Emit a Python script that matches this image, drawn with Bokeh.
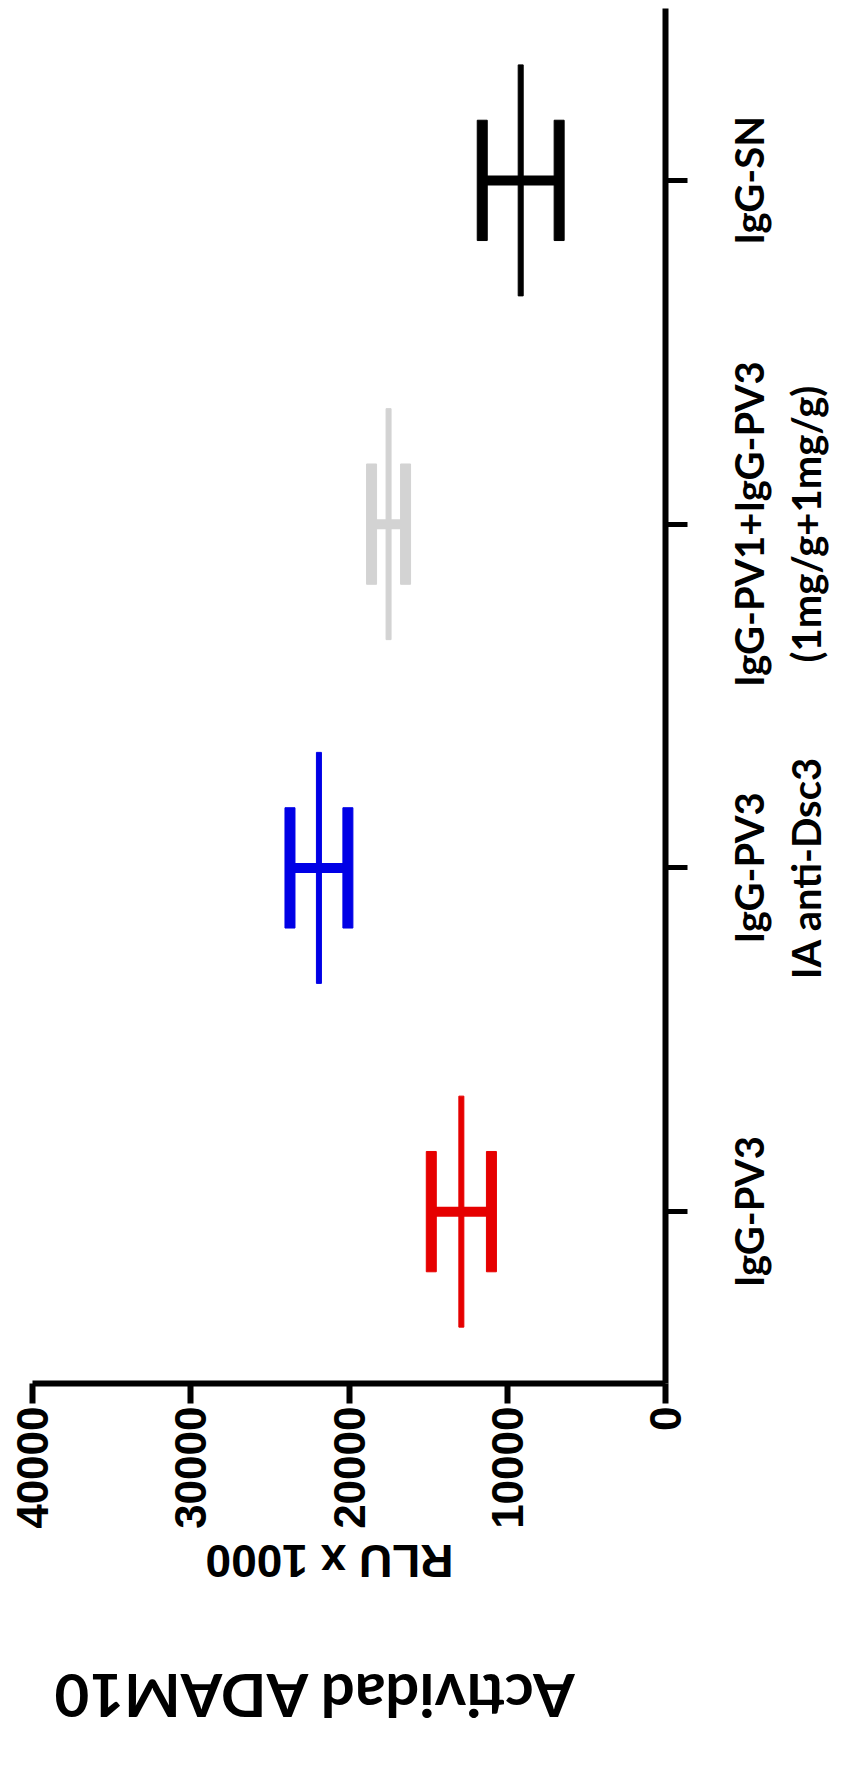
import math
from bokeh.plotting import figure
from bokeh.layouts import column, row
from bokeh.models import (Range1d, FactorRange, FixedTicker, Label, ColumnDataSource,
                          NumeralTickFormatter, CustomJSTickFormatter)
from bokeh.core.properties import value
from bokeh.embed import file_html
from bokeh.resources import INLINE

# ---- data ----
categories = ["IgG-PV3", "IgG-PV3\nIA anti-Dsc3", "IgG-PV1+IgG-PV3\n(1mg/g+1mg/g)", "IgG-SN"]
means = [12900, 21900, 17500, 9150]
sds = [1900, 1830, 1075, 2430]
colors = ["#e60000", "#0000e6", "#d3d3d3", "#000000"]
value_ticks = [0, 10000, 20000, 30000, 40000]
value_title = "RLU x 1000"
main_title = "Actividad ADAM10"

lows = [m - s for m, s in zip(means, sds)]
highs = [m + s for m, s in zip(means, sds)]
src = ColumnDataSource(dict(cat=categories, mean=means, lo=lows, hi=highs, color=colors))

x_range = Range1d(40000, 0)
y_range = FactorRange(factors=categories)

MAIN_W = 695
MAIN_H = 1535
TOP = 8
BOTTOM = 152
LEFT = 32
RIGHT = 30

# ---------------- main chart ----------------
p = figure(width=MAIN_W, height=MAIN_H, x_range=x_range, y_range=y_range,
           x_axis_location="below", y_axis_location="right",
           output_backend="svg", toolbar_location=None,
           min_border_left=LEFT, min_border_right=RIGHT,
           min_border_top=TOP, min_border_bottom=BOTTOM)
p.background_fill_color = "white"
p.border_fill_color = "white"
p.outline_line_color = None
p.xgrid.visible = False
p.ygrid.visible = False

# error bars (SD)
p.segment(x0="lo", y0="cat", x1="hi", y1="cat", line_width=10, line_color="color", source=src)
# caps
p.rect(x="lo", y="cat", width=10, width_units="screen", height=0.35,
       fill_color="color", line_color="color", line_width=1, source=src)
p.rect(x="hi", y="cat", width=10, width_units="screen", height=0.35,
       fill_color="color", line_color="color", line_width=1, source=src)
# mean line
p.rect(x="mean", y="cat", width=5, width_units="screen", height=0.672,
       fill_color="color", line_color="color", line_width=1, source=src)

# value axis (horizontal, reversed)
xa = p.xaxis[0]
xa.ticker = FixedTicker(ticks=value_ticks)
xa.formatter = NumeralTickFormatter(format="0")
xa.major_label_orientation = math.pi / 2
xa.major_label_text_font = "Liberation Sans"
xa.major_label_text_font_style = "bold"
xa.major_label_text_font_size = "44px"
xa.major_label_text_color = "black"
xa.major_label_standoff = 3
xa.axis_line_width = 6
xa.axis_line_color = "black"
xa.major_tick_line_width = 6
xa.major_tick_line_color = "black"
xa.major_tick_out = 20
xa.major_tick_in = 0
xa.minor_tick_out = 0
xa.minor_tick_in = 0

# category axis (vertical, on the right) - ticks only, labels drawn beside it
ya = p.yaxis[0]
ya.formatter = CustomJSTickFormatter(code="return ''")
ya.major_label_standoff = 0
ya.axis_line_width = 6
ya.axis_line_color = "black"
ya.major_tick_line_width = 5
ya.major_tick_line_color = "black"
ya.major_tick_out = 22
ya.major_tick_in = 0

# ---------------- category labels panel ----------------
LAB_W = 146
q = figure(width=LAB_W, height=MAIN_H, x_range=Range1d(0, LAB_W), y_range=y_range,
           x_axis_location=None, y_axis_location=None,
           output_backend="svg", toolbar_location=None,
           min_border_left=0, min_border_right=0, min_border_top=TOP, min_border_bottom=BOTTOM)
q.outline_line_color = None
q.background_fill_color = "white"
q.border_fill_color = "white"
q.grid.visible = False
lab_src = ColumnDataSource(dict(cat=categories, text=categories, x=[29] * len(categories)))
q.text(x="x", y="cat", text="text", source=lab_src, angle=math.pi / 2,
       text_align="center", text_baseline="top",
       text_font=value("Lato"), text_font_style="bold", text_font_size="40px",
       text_line_height=1.2, text_color="black")

# ---------------- titles panel (upside down) ----------------
TH = 229
r = figure(width=MAIN_W, height=TH, x_range=x_range, y_range=Range1d(0, TH),
           x_axis_location=None, y_axis_location=None,
           output_backend="svg", toolbar_location=None,
           min_border_left=LEFT, min_border_right=RIGHT, min_border_top=0, min_border_bottom=0)
r.outline_line_color = None
r.background_fill_color = "white"
r.border_fill_color = "white"
r.grid.visible = False
r.add_layout(Label(x=21232, y=204, text=value_title, angle=math.pi,
                   text_align="center", text_baseline="middle",
                   text_font="Liberation Sans", text_font_style="bold",
                   text_font_size="46px", text_color="black"))
r.add_layout(Label(x=22243, y=68, text=main_title, angle=math.pi,
                   text_align="center", text_baseline="middle",
                   text_font="Lato", text_font_style="bold",
                   text_font_size="60px", text_color="black"))

layout = column(row(p, q, spacing=0), r, spacing=0)
open("out.html", "w").write(file_html(layout, INLINE))
